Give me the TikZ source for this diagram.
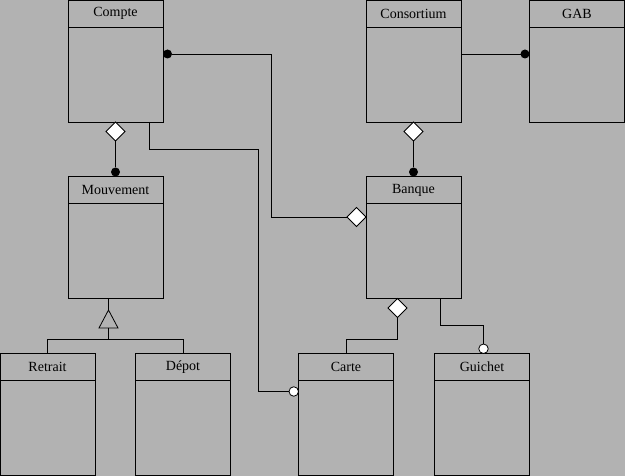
\documentclass[tikz,border=0pt]{standalone}
\usepackage{fontspec}
\setmainfont{Liberation Serif}
\usepackage{tikz}
\usetikzlibrary{positioning,calc,shapes.geometric}
\definecolor{bggray}{gray}{0.7}

\begin{document}
\begin{tikzpicture}[
    line width=0.8pt,
    head/.style={draw, minimum width=95pt, minimum height=27pt, inner sep=0pt, outer sep=0pt, anchor=north west, font=\fontsize{14}{16}\selectfont},
    body/.style={draw, minimum width=95pt, minimum height=95pt, inner sep=0pt, outer sep=0pt, below=0pt of #1},
    dot/.style={circle, fill=black, inner sep=0pt, outer sep=0pt, minimum size=9pt},
    odot/.style={circle, draw, fill=white, inner sep=0pt, outer sep=0pt, minimum size=9.5pt},
    agg/.style={diamond, draw, fill=white, inner sep=0pt, outer sep=0pt, minimum size=19pt},
    gen/.style={isosceles triangle, draw, shape border rotate=90, isosceles triangle stretches, inner sep=0pt, outer sep=0pt, minimum width=19pt, minimum height=18pt},
    x=1pt, y=-1pt
]
\useasboundingbox (0,0) rectangle (625,476);
\fill[bggray] (0,0) rectangle (625,476);

% --- Classes ---
\node[head] (compte) at (68,0) {Compte};
\node[body=compte] (compteb) {};
\node[head] (consortium) at (366,0) {Consortium};
\node[body=consortium] (consortiumb) {};
\node[head] (gab) at (529.5,0) {GAB};
\node[body=gab] (gabb) {};
\node[head] (mouvement) at (68,176.5) {Mouvement};
\node[body=mouvement] (mouvementb) {};
\node[head] (banque) at (366,176.5) {Banque};
\node[body=banque] (banqueb) {};
\node[head] (retrait) at (0,353.5) {Retrait};
\node[body=retrait] (retraitb) {};
\node[head] (depot) at (135.5,353.5) {Dépot};
\node[body=depot] (depotb) {};
\node[head] (carte) at (298.5,353.5) {Carte};
\node[body=carte] (carteb) {};
\node[head] (guichet) at (434.5,353.5) {Guichet};
\node[body=guichet] (guichetb) {};

% --- Compte / Banque ---
\node[dot, anchor=west] (dCB) at ($(compteb.north east)+(0,27)$) {};
\node[agg, anchor=east] (aCB) at ($(banqueb.north west)+(0,13.5)$) {};
\coordinate (kCB) at (271.5,54);
\draw (dCB) -- (kCB) |- (aCB);

% --- Compte / Carte ---
\node[odot, anchor=east] (oCC) at ($(carteb.north west)+(0,11)$) {};
\coordinate (kA) at (149.5,149.5);
\coordinate (kB) at (258.5,149.5);
\draw (kA |- compteb.south) -- (kA) -- (kB) |- (oCC);

% --- Compte / Mouvement ---
\node[agg, anchor=north] (aCM) at (compteb.south) {};
\node[dot, anchor=south] (dCM) at (mouvement.north) {};
\draw (aCM) -- (dCM);

% --- Consortium / Banque ---
\node[agg, anchor=north] (aCoB) at (consortiumb.south) {};
\node[dot, anchor=south] (dCoB) at (banque.north) {};
\draw (aCoB) -- (dCoB);

% --- Consortium / GAB ---
\node[dot, anchor=east] (dCG) at ($(gabb.north west)+(0,27)$) {};
\draw (dCG -| consortiumb.east) -- (dCG);

% --- Mouvement: Retrait, Depot ---
\node[gen, anchor=apex] (gen) at (108.5,310) {};
\draw (gen.apex |- mouvementb.south) -- (gen.apex);
\coordinate (kG) at (108.5,339.5);
\draw (gen.lower side) -- (kG);
\draw (retrait.north) |- (kG) -| (depot.north);

% --- Banque / Carte ---
\node[agg, anchor=north] (aBC) at ($(banqueb.south)+(-16,0)$) {};
\draw (aBC) |- ([yshift=14pt]carte.north) -- (carte.north);

% --- Banque / Guichet ---
\node[odot, anchor=south] (oBG) at ([xshift=1.5pt]guichet.north) {};
\draw ([xshift=-21pt]banqueb.south east) -- ++(0,27) -| (oBG);

\end{tikzpicture}
\end{document}
